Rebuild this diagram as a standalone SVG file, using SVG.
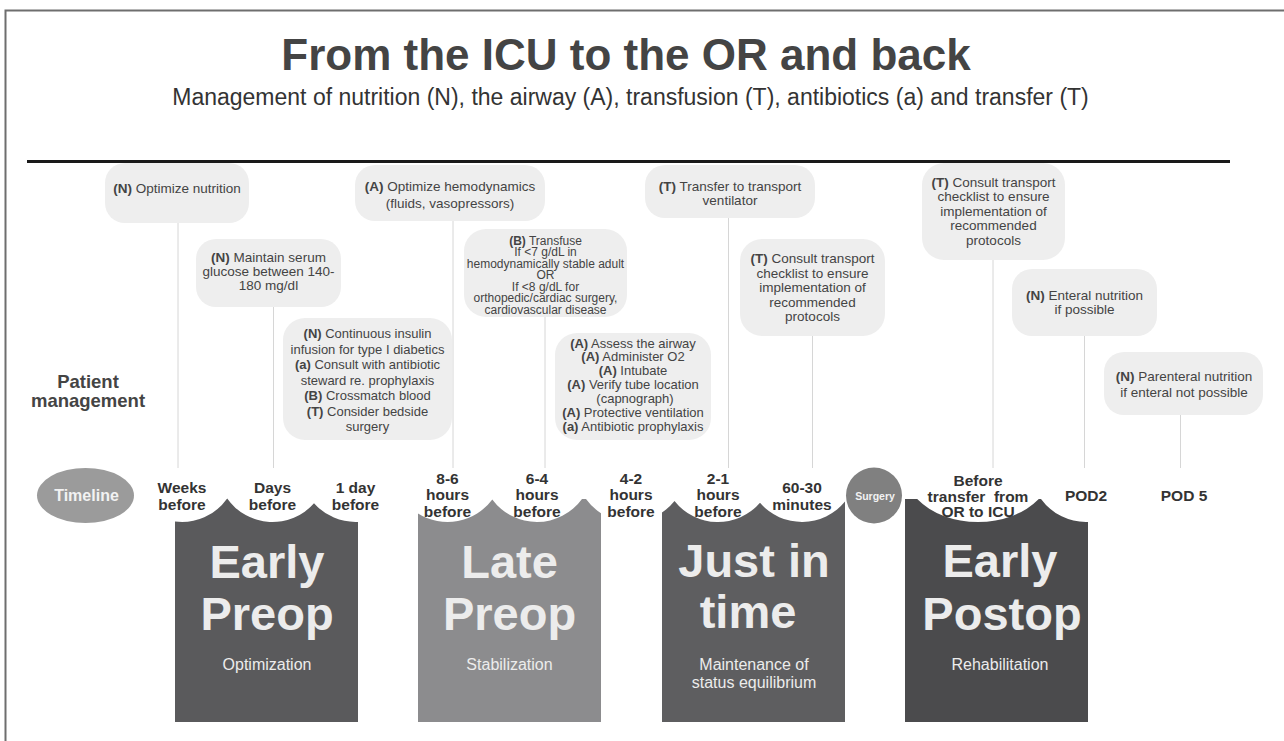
<svg xmlns="http://www.w3.org/2000/svg" width="1284" height="741" viewBox="0 0 1284 741">
<style>
text{font-family:"Liberation Sans",Arial,sans-serif;}
.box{fill:#eeeeee;}
.bt{font-size:13.5px;fill:#444;text-anchor:middle;}
.b{font-weight:bold;}
.conn{stroke:#d6d6d6;stroke-width:1;fill:none;}
.tl{font-size:15.5px;font-weight:bold;fill:#333;text-anchor:middle;white-space:pre;}
.big{font-size:47px;font-weight:bold;fill:#ececec;text-anchor:middle;}
.sub{font-size:16px;fill:#ececec;text-anchor:middle;}
</style>
<rect x="5.5" y="10.5" width="1290" height="740" fill="#ffffff" stroke="#6e6e6e" stroke-width="2"/>
<g id="title">
<text x="626" y="70" style="font-size:44px;font-weight:bold;fill:#444;text-anchor:middle">From the ICU to the OR and back</text>
<text x="630.5" y="105" style="font-size:23px;fill:#333;text-anchor:middle">Management of nutrition (N), the airway (A), transfusion (T), antibiotics (a) and transfer (T)</text>
</g>
<line x1="27" y1="161.5" x2="1230" y2="161.5" stroke="#1a1a1a" stroke-width="3"/>

<g id="phases">
<g id="phase-early-preop">
<path d="M175,722 V521.6 A55.5,55.5 0 0 0 227.2,498.6 A55.5,55.5 0 0 0 314,503.3 A55.5,55.5 0 0 0 358,521.9 V722 Z" fill="#5a5a5c"/>
<text class="big" x="267" y="578">Early</text>
<text class="big" x="267" y="630">Preop</text>
<text class="sub" x="267" y="670">Optimization</text>
</g>
<g id="phase-late-preop">
<path d="M418,722 V513.4 A55.5,55.5 0 0 0 492.3,499.4 A55.5,55.5 0 0 0 582,499 H586 A55.5,55.5 0 0 0 601,513.2 V722 Z" fill="#8c8c8e"/>
<text class="big" x="509.5" y="578">Late</text>
<text class="big" x="509.5" y="630">Preop</text>
<text class="sub" x="509.5" y="670">Stabilization</text>
</g>
<g id="phase-just-in-time">
<path d="M662,722 V512.5 A55.5,55.5 0 0 0 674.5,501 A55.5,55.5 0 0 0 760,502.8 A55.5,55.5 0 0 0 845,501.6 V722 Z" fill="#5e5e60"/>
<text class="big" x="754" y="577">Just in</text>
<text class="big" x="748" y="628">time</text>
<text class="sub" x="754" y="670">Maintenance of</text>
<text class="sub" x="754" y="688">status equilibrium</text>
</g>
<g id="phase-early-postop">
<path d="M905,722 V499 H917.2 A75,55.5 0 0 0 1038.8,499 H1041 A55.5,55.5 0 0 0 1088,521.9 V722 Z" fill="#4b4b4d"/>
<text class="big" x="1000" y="577">Early</text>
<text class="big" x="1002" y="630">Postop</text>
<text class="sub" x="1000" y="670">Rehabilitation</text>
</g>
</g>

<g id="connectors">
<line class="conn" x1="178" y1="223" x2="178" y2="468"/>
<line class="conn" x1="273.5" y1="307" x2="273.5" y2="468"/>
<line class="conn" x1="453" y1="221" x2="453" y2="468"/>
<line class="conn" x1="545" y1="317" x2="545" y2="468"/>
<line class="conn" x1="728.5" y1="218" x2="728.5" y2="468"/>
<line class="conn" x1="812.5" y1="336" x2="812.5" y2="468"/>
<line class="conn" x1="993" y1="260" x2="993" y2="468"/>
<line class="conn" x1="1084.5" y1="336" x2="1084.5" y2="468"/>
<line class="conn" x1="1180.5" y1="415" x2="1180.5" y2="468"/>
</g>

<g id="patient-management-label">
<text x="88" y="388" style="font-size:18.5px;font-weight:bold;fill:#444;text-anchor:middle">Patient</text>
<text x="88" y="407" style="font-size:18.5px;font-weight:bold;fill:#444;text-anchor:middle">management</text>
</g>

<g id="n1"><rect class="box" x="105" y="163" width="144" height="60" rx="20"/>
<text class="bt" x="177" y="193"><tspan class="b">(N)</tspan> Optimize nutrition</text></g>

<g id="n2"><rect class="box" x="196" y="239" width="145" height="68" rx="20"/>
<text class="bt" x="268.5" y="261.5"><tspan class="b">(N)</tspan> Maintain serum</text>
<text class="bt" x="268.5" y="275.5">glucose between 140-</text>
<text class="bt" x="268.5" y="289.5">180 mg/dl</text></g>

<g id="n3"><rect class="box" x="283" y="318" width="169" height="122" rx="22"/>
<text class="bt" style="font-size:13px" x="367.5" y="338"><tspan class="b">(N)</tspan> Continuous insulin</text>
<text class="bt" style="font-size:13px" x="367.5" y="353.5">infusion for type I diabetics</text>
<text class="bt" style="font-size:13px" x="367.5" y="369"><tspan class="b">(a)</tspan> Consult with antibiotic</text>
<text class="bt" style="font-size:13px" x="367.5" y="384.5">steward re. prophylaxis</text>
<text class="bt" style="font-size:13px" x="367.5" y="400"><tspan class="b">(B)</tspan> Crossmatch blood</text>
<text class="bt" style="font-size:13px" x="367.5" y="415.5"><tspan class="b">(T)</tspan> Consider bedside</text>
<text class="bt" style="font-size:13px" x="367.5" y="431">surgery</text></g>

<g id="n4"><rect class="box" x="355" y="165" width="190" height="56" rx="20"/>
<text class="bt" x="450" y="191"><tspan class="b">(A)</tspan> Optimize hemodynamics</text>
<text class="bt" x="450" y="207.5">(fluids, vasopressors)</text></g>

<g id="n5"><rect class="box" x="464" y="229" width="163" height="88" rx="22"/>
<text class="bt" style="font-size:12px" x="545.5" y="244.5"><tspan class="b">(B)</tspan> Transfuse</text>
<text class="bt" style="font-size:12px" x="545.5" y="256">If &lt;7 g/dL in</text>
<text class="bt" style="font-size:12px" x="545.5" y="267.5">hemodynamically stable adult</text>
<text class="bt" style="font-size:12px" x="545.5" y="279">OR</text>
<text class="bt" style="font-size:12px" x="545.5" y="290.5">If &lt;8 g/dL for</text>
<text class="bt" style="font-size:12px" x="545.5" y="302">orthopedic/cardiac surgery,</text>
<text class="bt" style="font-size:12px" x="545.5" y="313.5">cardiovascular disease</text></g>

<g id="n6"><rect class="box" x="555" y="333" width="156" height="107" rx="22"/>
<text class="bt" style="font-size:13px" x="633" y="347.5"><tspan class="b">(A)</tspan> Assess the airway</text>
<text class="bt" style="font-size:13px" x="633" y="361.3"><tspan class="b">(A)</tspan> Administer O2</text>
<text class="bt" style="font-size:13px" x="633" y="375.2"><tspan class="b">(A)</tspan> Intubate</text>
<text class="bt" style="font-size:13px" x="633" y="389"><tspan class="b">(A)</tspan> Verify tube location</text>
<text class="bt" style="font-size:13px" x="635" y="402.8">(capnograph)</text>
<text class="bt" style="font-size:13px" x="633" y="416.6"><tspan class="b">(A)</tspan> Protective ventilation</text>
<text class="bt" style="font-size:13px" x="633" y="430.5"><tspan class="b">(a)</tspan> Antibiotic prophylaxis</text></g>

<g id="n7"><rect class="box" x="645" y="165" width="170" height="53" rx="20"/>
<text class="bt" x="730" y="190.5"><tspan class="b">(T)</tspan> Transfer to transport</text>
<text class="bt" x="730" y="205">ventilator</text></g>

<g id="n8"><rect class="box" x="740" y="239" width="145" height="97" rx="22"/>
<text class="bt" x="812.5" y="263"><tspan class="b">(T)</tspan> Consult transport</text>
<text class="bt" x="812.5" y="277.5">checklist to ensure</text>
<text class="bt" x="812.5" y="292">implementation of</text>
<text class="bt" x="812.5" y="306.5">recommended</text>
<text class="bt" x="812.5" y="321">protocols</text></g>

<g id="n9"><rect class="box" x="922" y="163" width="143" height="97" rx="22"/>
<text class="bt" x="993.5" y="186.5"><tspan class="b">(T)</tspan> Consult transport</text>
<text class="bt" x="993.5" y="201">checklist to ensure</text>
<text class="bt" x="993.5" y="215.5">implementation of</text>
<text class="bt" x="993.5" y="230">recommended</text>
<text class="bt" x="993.5" y="244.5">protocols</text></g>

<g id="n10"><rect class="box" x="1012" y="269" width="145" height="67" rx="20"/>
<text class="bt" x="1084.5" y="299.5"><tspan class="b">(N)</tspan> Enteral nutrition</text>
<text class="bt" x="1084.5" y="313.5">if possible</text></g>

<g id="n11"><rect class="box" x="1104" y="352" width="159" height="63" rx="20"/>
<text class="bt" x="1184" y="380.5"><tspan class="b">(N)</tspan> Parenteral nutrition</text>
<text class="bt" x="1184" y="397">if enteral not possible</text></g>

<g id="timeline">
<g id="timeline-ellipse"><ellipse cx="85.5" cy="495.5" rx="48.5" ry="27.5" fill="#9b9b9b"/>
<text x="86.5" y="501" style="font-size:16px;font-weight:bold;fill:#f2f2f2;text-anchor:middle">Timeline</text></g>
<g id="t-weeks"><text class="tl" x="182" y="492.5">Weeks</text><text class="tl" x="182" y="509.5">before</text></g>
<g id="t-days"><text class="tl" x="272.5" y="492.5">Days</text><text class="tl" x="272.5" y="509.5">before</text></g>
<g id="t-1day"><text class="tl" x="355.5" y="492.5">1 day</text><text class="tl" x="355.5" y="509.5">before</text></g>
<g id="t-8-6"><text class="tl" x="447.5" y="483.5">8-6</text><text class="tl" x="447.5" y="500">hours</text><text class="tl" x="447.5" y="516.5">before</text></g>
<g id="t-6-4"><text class="tl" x="537" y="483.5">6-4</text><text class="tl" x="537" y="500">hours</text><text class="tl" x="537" y="516.5">before</text></g>
<g id="t-4-2"><text class="tl" x="631" y="483.5">4-2</text><text class="tl" x="631" y="500">hours</text><text class="tl" x="631" y="516.5">before</text></g>
<g id="t-2-1"><text class="tl" x="718" y="483.5">2-1</text><text class="tl" x="718" y="500">hours</text><text class="tl" x="718" y="516.5">before</text></g>
<g id="t-60-30"><text class="tl" x="802" y="492.5">60-30</text><text class="tl" x="802" y="509.5">minutes</text></g>
<g id="t-surgery"><circle cx="874" cy="495.5" r="28" fill="#808080"/>
<text x="875" y="499.5" style="font-size:10.5px;font-weight:bold;fill:#f2f2f2;text-anchor:middle">Surgery</text></g>
<g id="t-before-transfer"><text class="tl" x="978" y="485.5">Before</text><text class="tl" x="978" y="501.5">transfer  from</text><text class="tl" x="978" y="517">OR to ICU</text></g>
<g id="t-pod2"><text class="tl" x="1086" y="500.5">POD2</text></g>
<g id="t-pod5"><text class="tl" x="1184" y="500.5">POD 5</text></g>
</g>
</svg>
